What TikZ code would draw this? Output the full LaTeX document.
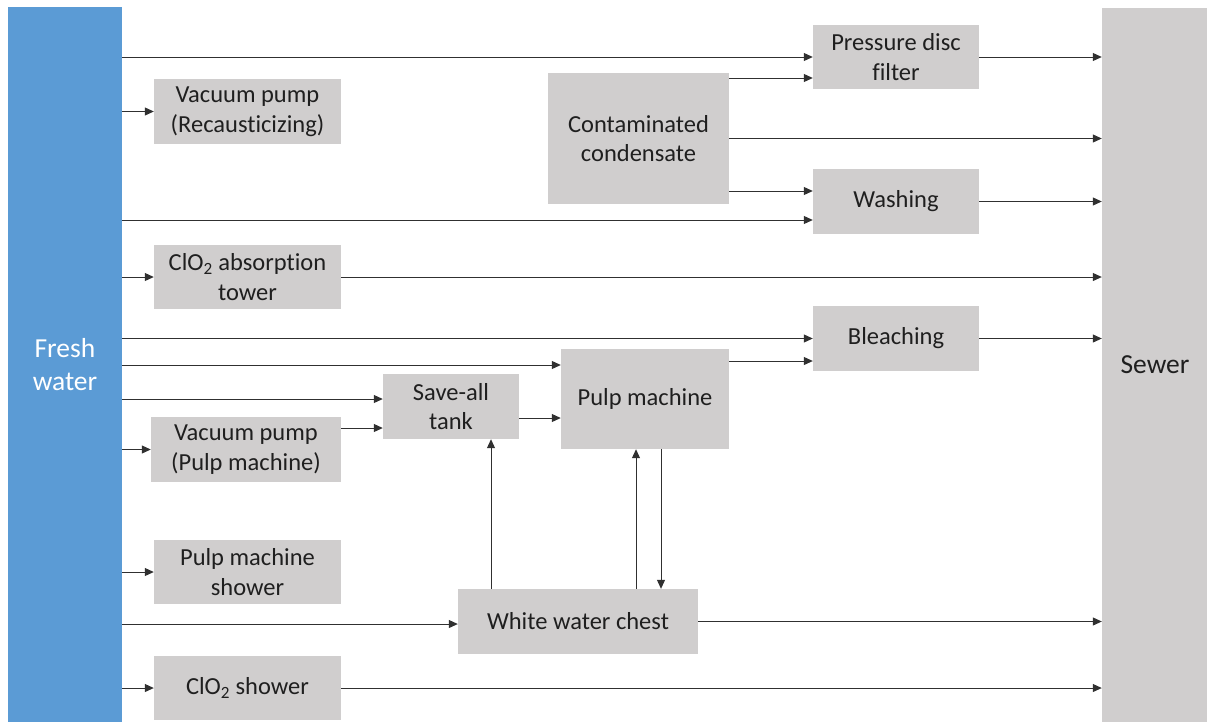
\documentclass[tikz,border=0pt]{standalone}
\usepackage{fontspec}
\setmainfont{Carlito}[Ligatures=NoCommon]
\usetikzlibrary{arrows.meta,calc}
\definecolor{freshblue}{HTML}{5B9BD5}
\definecolor{unitgray}{HTML}{D0CECE}
\definecolor{flowline}{HTML}{303030}
\begin{document}
\begin{tikzpicture}[x=1pt,y=-1pt,
  unit/.style={rectangle, fill=unitgray, inner sep=0pt, align=center,
    text=black!88, font=\fontsize{24.5}{29.5}\selectfont},
  tank/.style={rectangle, inner sep=0pt, align=center,
    font=\fontsize{27.5}{33}\selectfont},
  flow/.style={draw=flowline, line width=1pt},
  arr/.style={flow, -{Triangle[length=9pt,width=8pt]}}]
\useasboundingbox (0,0) rectangle (1207,721);

% source and sink
\node[tank, fill=freshblue, text=white, minimum width=114pt, minimum height=715pt]
  (fw) at (65,364.5) {Fresh\\water};
\node[tank, fill=unitgray, text=black!88, minimum width=106pt, minimum height=714pt]
  (sewer) at (1155,365) {Sewer};

% process units
\node[unit, minimum width=187pt, minimum height=65pt] (vp1) at (247.5,111.5) {Vacuum pump\\(Recausticizing)};
\node[unit, minimum width=187pt, minimum height=64pt] (abs) at (247.5,277) {ClO\textsubscript{2} absorption\\tower};
\node[unit, minimum width=190pt, minimum height=65pt] (vp2) at (246,449.5) {Vacuum pump\\(Pulp machine)};
\node[unit, minimum width=187pt, minimum height=64pt] (pms) at (247.5,572) {Pulp machine\\shower};
\node[unit, minimum width=187pt, minimum height=64pt] (clsh) at (247.5,688) {ClO\textsubscript{2} shower};
\node[unit, minimum width=166pt, minimum height=64pt] (pdf) at (896,57) {Pressure disc\\filter};
\node[unit, minimum width=181pt, minimum height=131pt] (cc) at (638.5,138.5) {Contaminated\\condensate};
\node[unit, minimum width=166pt, minimum height=65pt] (wash) at (896,201.5) {Washing};
\node[unit, minimum width=166pt, minimum height=65pt] (bleach) at (896,338.5) {Bleaching};
\node[unit, minimum width=168pt, minimum height=100pt] (pm) at (645,399) {Pulp machine};
\node[unit, minimum width=136pt, minimum height=65pt] (sat) at (451,406.5) {Save-all\\tank};
\node[unit, minimum width=240pt, minimum height=65pt] (wwc) at (578,621.5) {White water chest};

% helper levels and columns
\coordinate (y78) at (0,78);
\coordinate (y191) at (0,191);
\coordinate (y220) at (0,220);
\coordinate (y361) at (0,361);
\coordinate (y365) at (0,365);
\coordinate (y399) at (0,399);
\coordinate (y418) at (0,418);
\coordinate (y428) at (0,428);
\coordinate (y624) at (0,624);
\coordinate (x491) at (491,0);
\coordinate (x636) at (636,0);
\coordinate (x661) at (661,0);

% fresh water supply
\draw[arr] (fw.east |- pdf.west) -- (pdf.west);
\draw[arr] (fw.east |- vp1.west) -- (vp1.west);
\draw[arr] (fw.east |- y220) -- (wash.west |- y220);
\draw[arr] (fw.east |- abs.west) -- (abs.west);
\draw[arr] (fw.east |- bleach.west) -- (bleach.west);
\draw[arr] (fw.east |- y365) -- (pm.west |- y365);
\draw[arr] (fw.east |- y399) -- (sat.west |- y399);
\draw[arr] (fw.east |- vp2.west) -- (vp2.west);
\draw[arr] (fw.east |- pms.west) -- (pms.west);
\draw[arr] (fw.east |- y624) -- (wwc.west |- y624);
\draw[arr] (fw.east |- clsh.west) -- (clsh.west);

% contaminated condensate
\draw[arr] (cc.east |- y78) -- (pdf.west |- y78);
\draw[arr] (cc.east) -- (sewer.west |- cc.east);
\draw[arr] (cc.east |- y191) -- (wash.west |- y191);

% pulp line
\draw[arr] (vp2.east |- y428) -- (sat.west |- y428);
\draw[arr] (sat.east |- y418) -- (pm.west |- y418);
\draw[arr] (pm.east |- y361) -- (bleach.west |- y361);
\draw[arr] (wwc.north -| x491) -- (sat.south -| x491);
\draw[arr] (wwc.north -| x636) -- (pm.south -| x636);
\draw[arr] (pm.south -| x661) -- (wwc.north -| x661);

% discharges to sewer
\draw[arr] (pdf.east) -- (sewer.west |- pdf.east);
\draw[arr] (wash.east) -- (sewer.west |- wash.east);
\draw[arr] (abs.east) -- (sewer.west |- abs.east);
\draw[arr] (bleach.east) -- (sewer.west |- bleach.east);
\draw[arr] (wwc.east) -- (sewer.west |- wwc.east);
\draw[arr] (clsh.east) -- (sewer.west |- clsh.east);
\end{tikzpicture}
\end{document}
